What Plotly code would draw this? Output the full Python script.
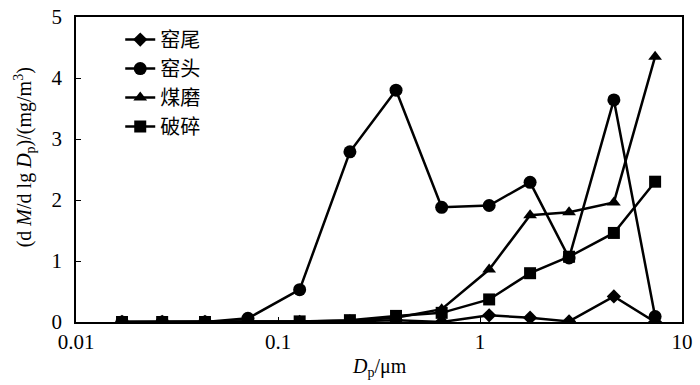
import plotly.graph_objects as go

dp = [0.0169, 0.0267, 0.0435, 0.071, 0.128, 0.227, 0.384, 0.646, 1.11, 1.77, 2.76, 4.6, 7.36]

yaowei = [0, 0, 0, 0, 0, 0.01, 0.03, 0.0, 0.11, 0.07, 0.01, 0.42, 0.0]      # 窑尾
yaotou = [0, 0, 0.0, 0.06, 0.53, 2.79, 3.80, 1.88, 1.91, 2.29, 1.05, 3.64, 0.09]  # 窑头
meimo = [0, 0, 0, 0, 0.01, 0.02, 0.07, 0.21, 0.86, 1.75, 1.80, 1.96, 4.35]    # 煤磨
posui = [0, 0, 0, 0, 0.01, 0.03, 0.10, 0.15, 0.37, 0.80, 1.07, 1.46, 2.30]    # 破碎

names = ["窑尾", "窑头", "煤磨", "破碎"]
series = [yaowei, yaotou, meimo, posui]
symbols = ["diamond", "circle", "triangle-up", "square"]
sizes = [11, 13, 12, 12]

fig = go.Figure()
for n, s, sym, sz in zip(names, series, symbols, sizes):
    fig.add_trace(go.Scatter(
        x=dp, y=s, name=n, mode="lines+markers",
        line=dict(color="black", width=2.5),
        marker=dict(symbol=sym, size=sz, color="black"),
    ))

serif = "Liberation Serif, Times New Roman, serif"
fig.update_layout(
    width=700, height=385,
    margin=dict(l=76, r=18, t=17, b=63),
    paper_bgcolor="white", plot_bgcolor="white",
    font=dict(family=serif, size=21, color="black"),
    showlegend=True,
    legend=dict(x=0.073, y=0.99, xanchor="left", yanchor="top",
                font=dict(family="Noto Sans CJK SC", size=20),
                bgcolor="rgba(0,0,0,0)", tracegroupgap=0, itemwidth=30),
    xaxis=dict(type="log", range=[-2, 1], tickvals=[0.01, 0.1, 1, 10],
               ticktext=["0.01", "0.1", "1", "10"],
               ticks="inside", ticklen=5, tickwidth=1, tickcolor="black",
               automargin=False,
               showline=True, linecolor="black", linewidth=1.5, mirror=True,
               showgrid=False, zeroline=False),
    yaxis=dict(range=[0, 5], dtick=1,
               ticks="inside", ticklen=5, tickwidth=1, tickcolor="black",
               ticklabelstandoff=8, automargin=False,
               showline=True, linecolor="black", linewidth=1.5, mirror=True,
               showgrid=False, zeroline=False),
    annotations=[
        dict(text="(d <i>M</i>/d lg <i>D</i><sub>p</sub>)/(mg/m<sup>3</sup>)",
             xref="paper", yref="paper", x=0, y=0.54, xshift=-51,
             xanchor="center", yanchor="middle", textangle=-90, showarrow=False,
             font=dict(family=serif, size=20)),
        dict(text="<i>D</i><sub>p</sub>/μm",
             xref="paper", yref="paper", x=0.5, y=0, yshift=-45,
             xanchor="center", yanchor="middle", showarrow=False,
             font=dict(family=serif, size=20)),
    ],
)

fig.write_html("out.html", config={"displayModeBar": False},
               post_script="document.body.style.margin='0';document.body.style.overflow='hidden';")
